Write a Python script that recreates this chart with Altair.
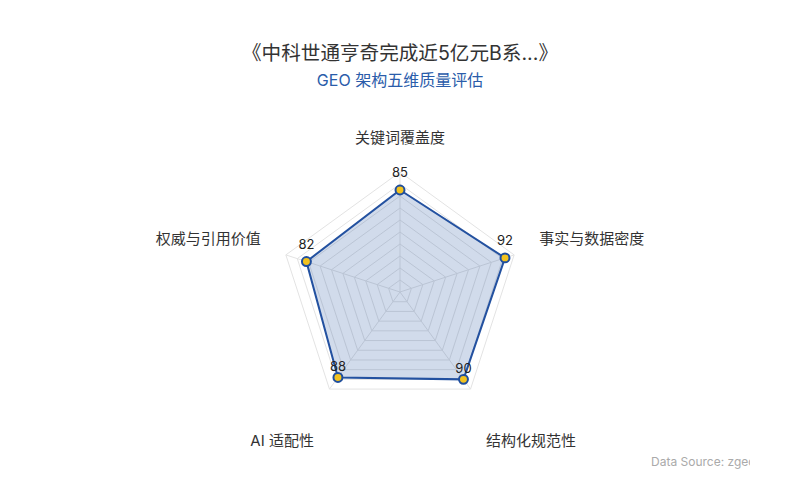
import altair as alt
import pandas as pd

# ---- data ----
categories = ["关键词覆盖度", "事实与数据密度", "结构化规范性", "AI 适配性", "权威与引用价值"]
scores = [85, 92, 90, 88, 82]
ring_levels = [10, 20, 30, 40, 50, 60, 70, 80, 90, 100]
axis_max = 100
title_text = "《中科世通亨奇完成近5亿元B系...》"
subtitle_text = "GEO 架构五维质量评估"
source_text = "Data Source: zgeo"

FONT = "Inter, Noto Sans CJK SC, sans-serif"
N = len(categories)

df_scores = pd.DataFrame({"idx": list(range(N)), "category": categories, "score": scores})
df_rings = pd.DataFrame(
    [{"level": lv, "idx": i} for lv in ring_levels for i in range(N)]
)
df_spokes = pd.DataFrame({"idx": list(range(N)), "level": [axis_max] * N})

ang = f"datum.idx * 2 * PI / {N}"

xs = alt.Scale(domain=[-326.667, 291.667], nice=False, zero=False)
ys = alt.Scale(domain=[-160, 160], nice=False, zero=False)

def X(f):
    return alt.X(f"{f}:Q", scale=xs, axis=None)

def Y(f):
    return alt.Y(f"{f}:Q", scale=ys, axis=None)

rings = (
    alt.Chart(df_rings)
    .transform_calculate(x=f"datum.level * sin({ang})", y=f"datum.level * cos({ang})")
    .mark_line(interpolate="linear-closed", color="#e3e3e3", strokeWidth=1)
    .encode(x=X("x"), y=Y("y"), detail="level:N", order="idx:Q")
)

spokes = (
    alt.Chart(df_spokes)
    .transform_calculate(
        x0="0", y0="0",
        x=f"datum.level * sin({ang})", y=f"datum.level * cos({ang})",
    )
    .mark_rule(color="#e3e3e3", strokeWidth=1)
    .encode(x=X("x0"), y=Y("y0"), x2="x:Q", y2="y:Q")
)

base = alt.Chart(df_scores).transform_calculate(
    x=f"datum.score * sin({ang})",
    y=f"datum.score * cos({ang})",
    lx=f"122 * sin({ang})",
    ly=f"122 * cos({ang})",
)

poly = base.mark_line(
    interpolate="linear-closed",
    color="#2351a0",
    strokeWidth=2,
    fill="#2654a1",
    fillOpacity=0.21,
).encode(x=X("x"), y=Y("y"), order="idx:Q")

vals_up = base.transform_filter("datum.idx == 0 || datum.idx == 1 || datum.idx == 4").mark_text(
    font=FONT, fontSize=13, color="#222222", dy=-17
).encode(x=X("x"), y=Y("y"), text="score:Q")

vals_low = base.transform_filter("datum.idx == 2 || datum.idx == 3").mark_text(
    font=FONT, fontSize=13, color="#222222", dy=-10
).encode(x=X("x"), y=Y("y"), text="score:Q")

points = base.mark_circle(
    size=80, color="#f2c21f", opacity=1, stroke="#1f4e9e", strokeWidth=2
).encode(x=X("x"), y=Y("y"))

lab_kw = dict(font=FONT, fontSize=15, color="#333333")
lab_top = base.transform_filter("datum.idx == 0").mark_text(
    align="center", baseline="bottom", **lab_kw
).encode(x=X("lx"), y=Y("ly"), text="category:N")
lab_right = base.transform_filter("datum.idx == 1").mark_text(
    align="left", baseline="bottom", **lab_kw
).encode(x=X("lx"), y=Y("ly"), text="category:N")
lab_left = base.transform_filter("datum.idx == 4").mark_text(
    align="right", baseline="bottom", **lab_kw
).encode(x=X("lx"), y=Y("ly"), text="category:N")
lab_br = base.transform_filter("datum.idx == 2").mark_text(
    align="left", baseline="top", dy=24, **lab_kw
).encode(x=X("lx"), y=Y("ly"), text="category:N")
lab_bl = base.transform_filter("datum.idx == 3").mark_text(
    align="right", baseline="top", dy=24, **lab_kw
).encode(x=X("lx"), y=Y("ly"), text="category:N")

source = alt.Chart(pd.DataFrame({"t": [source_text]})).mark_text(
    font=FONT, fontSize=12, color="#aaaaaa", align="left", baseline="middle", clip=True
).encode(x=alt.value(643), y=alt.value(362), text="t:N")

chart = (
    alt.layer(rings, spokes, poly, vals_up, vals_low, points,
              lab_top, lab_right, lab_left, lab_br, lab_bl, source)
    .properties(
        width=742,
        height=384,
        padding={"left": 0, "top": 92, "right": 42, "bottom": 8},
        autosize=alt.AutoSizeParams(type="none"),
        title=alt.TitleParams(
            text=title_text,
            subtitle=subtitle_text,
            anchor="middle",
            dx=21,
            font=FONT,
            subtitleFont=FONT,
            fontSize=19.6,
            fontWeight="normal",
            color="#333333",
            subtitleFontSize=16,
            subtitleColor="#2a5caa",
            subtitlePadding=8,
            offset=10,
        ),
    )
    .configure(font=FONT)
    .configure_view(strokeWidth=0)
)

chart.save("out.html", embed_options={"renderer": "svg", "actions": False})
